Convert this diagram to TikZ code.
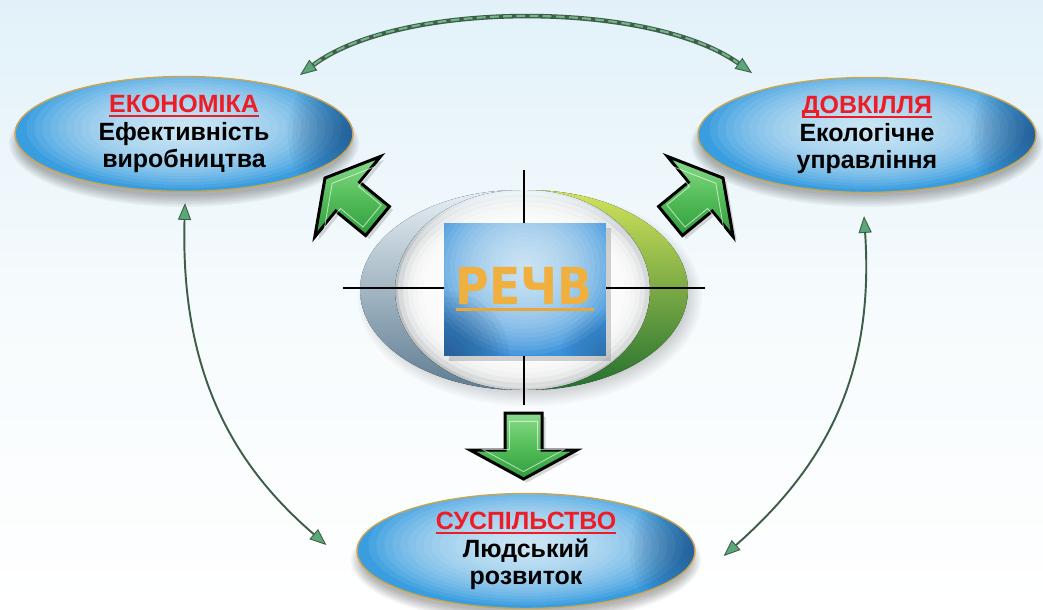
\documentclass[tikz,border=0pt]{standalone}
\usepackage{fontspec}
\setmainfont{Liberation Sans}
\newfontfamily\rechvfont{DejaVu Sans}
\usetikzlibrary{shapes.geometric,arrows.meta,calc,shadows}

\definecolor{bgtop}{HTML}{E2F1F9}
\definecolor{bgmid}{HTML}{F6FBFD}
\definecolor{tred}{HTML}{EE1C25}
\definecolor{egold}{HTML}{C9A652}
\definecolor{ebase}{HTML}{3A9DE0}
\definecolor{ehl}{HTML}{EAF8FD}
\definecolor{edark}{HTML}{1E3F6E}
\definecolor{qbase}{HTML}{3B93DC}
\definecolor{qhl}{HTML}{E8F6FC}
\definecolor{qdark}{HTML}{1C3961}
\definecolor{rgold}{HTML}{F0B040}
\definecolor{rline}{HTML}{E9A63C}
\definecolor{agl}{HTML}{8ADB8A}
\definecolor{agm}{HTML}{55BE5A}
\definecolor{agd}{HTML}{2E9B3C}
\definecolor{arcg}{HTML}{5AA878}
\definecolor{arcd}{HTML}{3E5E48}
\definecolor{cl0}{HTML}{E6EFF4}
\definecolor{cl1}{HTML}{BCD6E3}
\definecolor{cl2}{HTML}{5F7C92}
\definecolor{cr0}{HTML}{D2E35A}
\definecolor{cr1}{HTML}{78C444}
\definecolor{cr2}{HTML}{22702F}

\newsavebox\ttlbox
\newcommand\redttl[1]{\textcolor{tred}{\sbox\ttlbox{#1}\rlap{\rule[-2.4pt]{\wd\ttlbox}{1pt}}\usebox\ttlbox}}
\newcommand\softshadow[4]{\foreach \i in {0,...,7}{\pgfmathsetmacro\shx{(#3+6-1.6*\i)*0.02}\pgfmathsetmacro\shy{(#4+6-1.6*\i)*0.02}\fill[black,opacity=0.04] (#1,#2) ellipse[x radius=\shx cm,y radius=\shy cm];}}

\begin{document}
\begin{tikzpicture}[x=0.02cm,y=-0.02cm,
  ellnode/.style={ellipse, draw=egold, line width=0.8pt, fill=ebase,
    minimum width=6.76cm, minimum height=2.3cm, inner sep=0pt, align=center,
    font=\fontsize{14.2}{15.6}\selectfont\bfseries,
    path picture={
      \foreach \k in {0,...,19}{\pgfmathsetmacro\ex{3.15*(1-\k/20)}\pgfmathsetmacro\ey{1.2*(1-\k/20)}
        \fill[ehl,opacity=0.09] ($(path picture bounding box.center)+(0,-6)$) ellipse[x radius=\ex cm, y radius=\ey cm];}
      \foreach \k in {0,...,15}{\pgfmathsetmacro\ex{1.3*(1-\k/16)}\pgfmathsetmacro\ey{1.5*(1-\k/16)}
        \fill[edark,opacity=0.05] (path picture bounding box.east) ellipse[x radius=\ex cm, y radius=\ey cm];}
    }},
  garrow/.style={draw=black, line width=1.7pt, top color=agl, bottom color=agd, middle color=agm,
    drop shadow={shadow xshift=2pt, shadow yshift=-2pt, opacity=0.3}},
  ginset/.style={draw=white, line width=0.5pt, opacity=0.6},
  arcline/.style={draw=arcd, line width=1.1pt, >={Triangle[length=9.5pt,width=7.5pt,fill=arcg,line width=0.5pt]}, <->},
  xline/.style={draw=black, line width=1.1pt}
]
\useasboundingbox (0,0) rectangle (1043,609);
\fill[top color=bgtop, bottom color=white, middle color=bgmid] (0,0) rectangle (1043,609);

% ring halo
\foreach \i in {0,...,9}{\pgfmathsetmacro\hx{(172-2.4*\i)*0.02}\pgfmathsetmacro\hy{(108-2.4*\i)*0.02}\fill[black,opacity=0.024] (530,298) ellipse[x radius=\hx cm,y radius=\hy cm];}
\foreach \i in {0,...,5}{\pgfmathsetmacro\wx{(126-5*\i)*0.02}\pgfmathsetmacro\wy{(98-5*\i)*0.02}\fill[white,opacity=0.4] (524,290) ellipse[x radius=\wx cm,y radius=\wy cm];}

% crescents
\fill[top color=cl0, middle color=cl1, bottom color=cl2] (520,190) arc[start angle=90,end angle=270,x radius=3.2cm,y radius=2cm] arc[start angle=270,end angle=90,x radius=2.5cm,y radius=2cm] -- cycle;
\fill[top color=cr0, middle color=cr1, bottom color=cr2] (528,190) arc[start angle=90,end angle=-90,x radius=3.2cm,y radius=2cm] arc[start angle=-90,end angle=90,x radius=2.44cm,y radius=2cm] -- cycle;

% centre square
\node[rectangle, minimum width=3.24cm, minimum height=2.66cm, inner sep=0pt, fill=qbase,
  drop shadow={shadow xshift=3pt, shadow yshift=-3pt, opacity=0.35},
  path picture={
    \foreach \k in {0,...,19}{\pgfmathsetmacro\ex{2.0*(1-\k/20)}\pgfmathsetmacro\ey{1.75*(1-\k/20)}
      \fill[qhl,opacity=0.09] ($(path picture bounding box.center)+(0,-22)$) ellipse[x radius=\ex cm, y radius=\ey cm];}
    \foreach \k in {0,...,11}{\pgfmathsetmacro\ex{1.3*(1-\k/12)}
      \fill[qdark,opacity=0.06] (path picture bounding box.south west) circle[radius=\ex cm];}
    \foreach \k in {0,...,9}{\pgfmathsetmacro\ex{0.9*(1-\k/10)}
      \fill[qdark,opacity=0.04] (path picture bounding box.south east) circle[radius=\ex cm];}
  }] (rechv) at (525,289.5) {};
\coordinate (vtop) at (524,170);
\coordinate (vbot) at (524,405);
\coordinate (hleft) at (343,288);
\coordinate (hright) at (705,288);
\draw[xline] (vtop) -- (vtop |- rechv.north);
\draw[xline] (vbot |- rechv.south) -- (vbot);
\draw[xline] (hleft) -- (hleft -| rechv.west);
\draw[xline] (hright -| rechv.east) -- (hright);
\node[font=\rechvfont\bfseries\fontsize{29}{30}\selectfont, text=rgold, xscale=0.9, inner sep=0pt] (rechvtxt) at (524,285.5) {РЕЧВ};
\draw[rline, line width=1.7pt] ($(rechv.center)+(-69,19.5)$) -- ++(138,0);

% green arrows
\draw[garrow] (325,178) -- (380.6,156.4) -- (359.6,182.1) -- (389.4,206.5) -- (365.6,235.5) -- (335.8,211.1) -- (314.8,236.8) -- cycle;
\begin{scope}[scale around={0.76:(355,200)}]
\draw[ginset] (325,178) -- (380.6,156.4) -- (359.6,182.1) -- (389.4,206.5) -- (365.6,235.5) -- (335.8,211.1) -- (314.8,236.8) -- cycle;
\end{scope}
\draw[garrow] (723,178) -- (667.4,156.4) -- (688.4,182.1) -- (658.6,206.5) -- (682.4,235.5) -- (712.2,211.1) -- (733.2,236.8) -- cycle;
\begin{scope}[scale around={0.76:(693,200)}]
\draw[ginset] (723,178) -- (667.4,156.4) -- (688.4,182.1) -- (658.6,206.5) -- (682.4,235.5) -- (712.2,211.1) -- (733.2,236.8) -- cycle;
\end{scope}
\draw[garrow] (505,413) -- (542,413) -- (542,450) -- (577,450) -- (523.5,479) -- (470,450) -- (505,450) -- cycle;
\begin{scope}[scale around={0.76:(523.5,448)}]
\draw[ginset] (505,413) -- (542,413) -- (542,450) -- (577,450) -- (523.5,479) -- (470,450) -- (505,450) -- cycle;
\end{scope}

% ellipses
\softshadow{184}{143}{169}{58}
\softshadow{867}{144}{170}{57}
\softshadow{526}{560}{169}{57}
\node[ellnode] (eco) at (184,134) {\redttl{ЕКОНОМІКА}\\Ефективність\\виробництва};
\node[ellnode] (env) at (867,135) {\redttl{ДОВКІЛЛЯ}\\Екологічне\\управління};
\node[ellnode] (soc) at (526,551) {\redttl{СУСПІЛЬСТВО}\\Людський\\розвиток};

% curved connectors
\draw[arcline, line width=2.6pt] ($(eco.center)+(116,-59)$) .. controls +(100,-75) and +(-102,-73) .. ($(env.center)+(-115,-62)$);
\draw[arcg!85!white, line width=1.2pt, dash pattern=on 5pt off 2.5pt, shorten <=10pt, shorten >=10pt] ($(eco.center)+(116,-59)$) .. controls +(100,-75) and +(-102,-73) .. ($(env.center)+(-115,-62)$);
\draw[arcline] ($(eco.south)+(1,11)$) .. controls +(-5,177) and +(-87,-75) .. ($(soc.west)+(-30,-6)$);
\draw[arcline] ($(env.south)+(-3,23)$) .. controls +(11,165) and +(97,-86) .. ($(soc.east)+(28,5)$);
\end{tikzpicture}
\end{document}
